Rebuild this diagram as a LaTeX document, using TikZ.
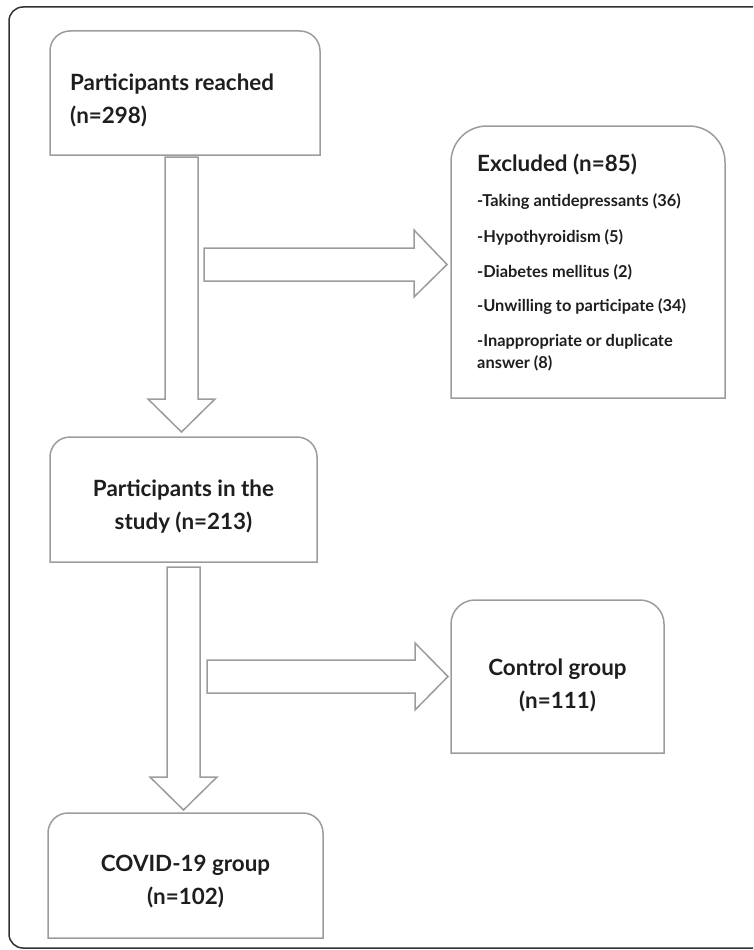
\documentclass[tikz,border=0pt]{standalone}
\usepackage{fontspec}
\setmainfont{Lato}
\usetikzlibrary{calc}
\definecolor{boxgray}{HTML}{9C9C9C}
\definecolor{framedark}{HTML}{333333}
\definecolor{txt}{HTML}{1E1E1E}
\tikzset{
  boxline/.style={draw=boxgray, line width=1.5pt, line join=miter},
  arrowline/.style={draw=boxgray, line width=1.5pt, line join=miter, fill=white},
  holder/.style={draw=none, rectangle, inner sep=0pt, outer sep=0pt},
  bigtext/.style={text=txt, font=\bfseries\fontsize{22.4}{33}\selectfont, inner sep=0pt},
  smalltext/.style={text=txt, font=\bfseries\fontsize{16.4}{21.5}\selectfont, inner sep=0pt, anchor=west},
}
\newcommand\topbox[2]{%
  \draw[boxline] (#1.south west) [rounded corners=#2] -- (#1.north west) -- (#1.north east) [sharp corners] -- (#1.south east) -- cycle;}
\begin{document}
\begin{tikzpicture}[x=1pt,y=-1pt]
\useasboundingbox (0,0) rectangle (753,950);
\clip (0,0) rectangle (753,950);
% outer frame
\draw[framedark, line width=1.5pt, rounded corners=14pt] (9,7) rectangle (790,948);

% boxes
\node[holder, minimum width=270pt, minimum height=124pt] (reached) at (185,93) {};
\node[holder, minimum width=274pt, minimum height=272pt] (excluded) at (588,262) {};
\node[holder, minimum width=267pt, minimum height=125pt] (study) at (183.5,499.5) {};
\node[holder, minimum width=213pt, minimum height=153pt] (control) at (557.5,676.5) {};
\node[holder, minimum width=275pt, minimum height=125pt] (covid) at (185.5,875.5) {};

\topbox{reached}{20pt}
\topbox{excluded}{36pt}
\topbox{study}{20pt}
\topbox{control}{24pt}
\topbox{covid}{20pt}

% texts
\node[bigtext, anchor=west, align=left] (reachedtxt) at (70,100) {Participants reached\\(n=298)};
\node[bigtext, anchor=west] (exhead) at (477,164) {Excluded (n=85)};
\node[smalltext] (ex1) at (477,202) {-Taking antidepressants (36)};
\node[smalltext] (ex2) at (477,237) {-Hypothyroidism (5)};
\node[smalltext] (ex3) at (477,272) {-Diabetes mellitus (2)};
\node[smalltext] (ex4) at (477,307) {-Unwilling to participate (34)};
\node[smalltext, align=left] (ex5) at (477,352.5) {-Inappropriate or duplicate\\answer (8)};
\node[bigtext, align=center] (studytxt) at (183.5,506.5) {Participants in the\\study (n=213)};
\node[bigtext, align=center] (controltxt) at (557.5,685) {Control group\\(n=111)};
\node[bigtext, align=center] (covidtxt) at (185.5,882) {COVID-19 group\\(n=102)};

% block arrows
\coordinate (d1) at (181.5,157);
\draw[arrowline] ($(d1)+(-16.5,0)$) -- ($(d1)+(16.5,0)$) -- ($(d1)+(16.5,242)$) -- ($(d1)+(33.5,242)$)
  -- (181.5,432) -- ($(d1)+(-33.5,242)$) -- ($(d1)+(-16.5,242)$) -- cycle;
\coordinate (r1) at (204,264.5);
\draw[arrowline] ($(r1)+(0,-16.5)$) -- ($(r1)+(210,-16.5)$) -- ($(r1)+(210,-34.5)$) -- (447,264.5)
  -- ($(r1)+(210,32.5)$) -- ($(r1)+(210,16.5)$) -- ($(r1)+(0,16.5)$) -- cycle;
\coordinate (d2) at (183.5,567);
\draw[arrowline] ($(d2)+(-16.5,0)$) -- ($(d2)+(16.5,0)$) -- ($(d2)+(16.5,210)$) -- ($(d2)+(33.5,210)$)
  -- (183.5,810) -- ($(d2)+(-33.5,210)$) -- ($(d2)+(-16.5,210)$) -- cycle;
\coordinate (r2) at (207,676.5);
\draw[arrowline] ($(r2)+(0,-16.5)$) -- ($(r2)+(208,-16.5)$) -- ($(r2)+(208,-33.5)$) -- (448,676.5)
  -- ($(r2)+(208,33.5)$) -- ($(r2)+(208,16.5)$) -- ($(r2)+(0,16.5)$) -- cycle;
\end{tikzpicture}
\end{document}
